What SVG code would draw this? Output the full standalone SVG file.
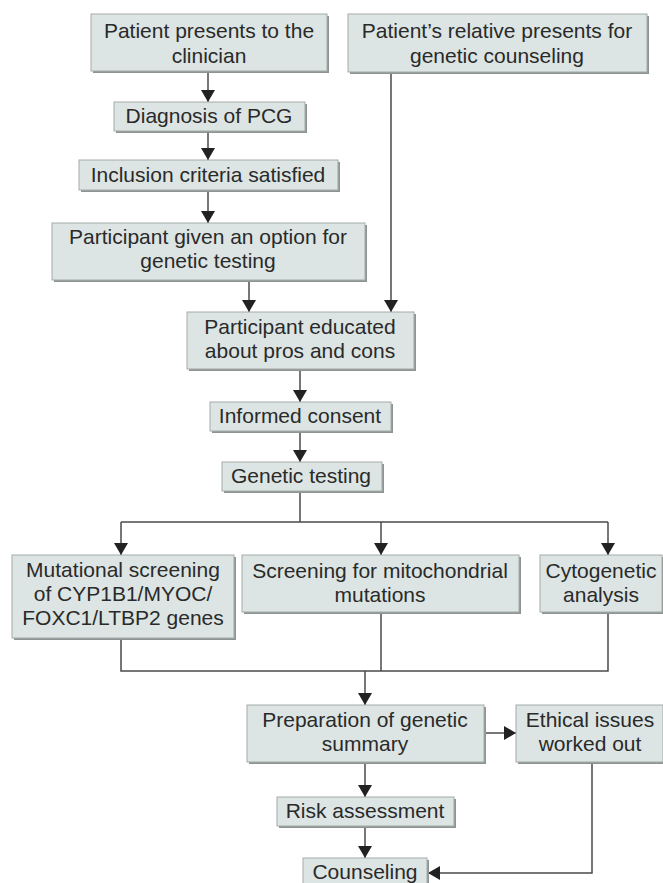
<svg xmlns="http://www.w3.org/2000/svg" width="663" height="883" viewBox="0 0 663 883">
<style>
.sh{fill:#8e9492}
.bx{fill:#dce5e3;stroke:#a4abaa;stroke-width:1}
.t{font-family:"Liberation Sans",Arial,sans-serif;font-size:21px;fill:#2a2a2a;text-anchor:middle}
.c{fill:none;stroke:#4a4a4a;stroke-width:1.5}
.a{marker-end:url(#ah)}
</style>
<defs>
<marker id="ah" viewBox="0 0 12 14" refX="12" refY="7" markerWidth="12" markerHeight="14" markerUnits="userSpaceOnUse" orient="auto">
<path d="M0,0 L12,7 L0,14 z" fill="#222"/>
</marker>
</defs>
<rect width="663" height="883" fill="#ffffff"/>
<g id="connectors">
<line class="c a" x1="208" y1="71" x2="208" y2="102"/>
<line class="c a" x1="208" y1="131" x2="208" y2="160"/>
<line class="c a" x1="208" y1="190" x2="208" y2="223"/>
<line class="c a" x1="249" y1="280" x2="249" y2="312"/>
<line class="c a" x1="391" y1="72" x2="391" y2="312"/>
<line class="c a" x1="300" y1="369" x2="300" y2="402"/>
<line class="c a" x1="300" y1="431" x2="300" y2="462"/>
<polyline class="c" points="300,491 300,522"/>
<polyline class="c" points="121,522 608,522"/>
<line class="c a" x1="121" y1="522" x2="121" y2="555"/>
<line class="c a" x1="381" y1="522" x2="381" y2="555"/>
<line class="c a" x1="608" y1="522" x2="608" y2="555"/>
<polyline class="c" points="121,638 121,671 608,671 608,612"/>
<line class="c" x1="381" y1="612" x2="381" y2="671"/>
<line class="c a" x1="365" y1="671" x2="365" y2="705"/>
<line class="c a" x1="484" y1="733" x2="516" y2="733"/>
<line class="c a" x1="365" y1="762" x2="365" y2="797"/>
<line class="c a" x1="365" y1="826" x2="365" y2="858"/>
<polyline class="c a" points="592,762 592,873 428,873"/>
</g>
<g id="n1"><rect class="sh" x="93" y="16" width="236" height="57"/><rect class="bx" x="91" y="14" width="236" height="57"/>
<text class="t" x="209" y="38">Patient presents to the</text><text class="t" x="209" y="63">clinician</text></g>
<g id="n2"><rect class="sh" x="350" y="16" width="299" height="58"/><rect class="bx" x="348" y="14" width="299" height="58"/>
<text class="t" x="497" y="38">Patient’s relative presents for</text><text class="t" x="497" y="63">genetic counseling</text></g>
<g id="n3"><rect class="sh" x="116" y="104" width="191" height="29"/><rect class="bx" x="114" y="102" width="191" height="29"/>
<text class="t" x="209" y="123">Diagnosis of PCG</text></g>
<g id="n4"><rect class="sh" x="81" y="162" width="259" height="30"/><rect class="bx" x="79" y="160" width="259" height="30"/>
<text class="t" x="208" y="182">Inclusion criteria satisfied</text></g>
<g id="n5"><rect class="sh" x="54" y="225" width="313" height="57"/><rect class="bx" x="52" y="223" width="313" height="57"/>
<text class="t" x="208" y="244">Participant given an option for</text><text class="t" x="208" y="268">genetic testing</text></g>
<g id="n6"><rect class="sh" x="189" y="314" width="227" height="57"/><rect class="bx" x="187" y="312" width="227" height="57"/>
<text class="t" x="300" y="334">Participant educated</text><text class="t" x="300" y="358">about pros and cons</text></g>
<g id="n7"><rect class="sh" x="212" y="404" width="181" height="29"/><rect class="bx" x="210" y="402" width="181" height="29"/>
<text class="t" x="300" y="423">Informed consent</text></g>
<g id="n8"><rect class="sh" x="224" y="464" width="160" height="29"/><rect class="bx" x="222" y="462" width="160" height="29"/>
<text class="t" x="301" y="483">Genetic testing</text></g>
<g id="n9"><rect class="sh" x="14" y="557" width="222" height="83"/><rect class="bx" x="12" y="555" width="222" height="83"/>
<text class="t" x="123" y="577">Mutational screening</text><text class="t" x="123" y="601">of CYP1B1/MYOC/</text><text class="t" x="123" y="625">FOXC1/LTBP2 genes</text></g>
<g id="n10"><rect class="sh" x="244" y="557" width="277" height="57"/><rect class="bx" x="242" y="555" width="277" height="57"/>
<text class="t" x="380" y="578">Screening for mitochondrial</text><text class="t" x="380" y="602">mutations</text></g>
<g id="n11"><rect class="sh" x="542" y="557" width="122" height="57"/><rect class="bx" x="540" y="555" width="122" height="57"/>
<text class="t" x="601" y="578">Cytogenetic</text><text class="t" x="601" y="602">analysis</text></g>
<g id="n12"><rect class="sh" x="249" y="707" width="237" height="57"/><rect class="bx" x="247" y="705" width="237" height="57"/>
<text class="t" x="365" y="727">Preparation of genetic</text><text class="t" x="365" y="751">summary</text></g>
<g id="n13"><rect class="sh" x="518" y="707" width="147" height="57"/><rect class="bx" x="516" y="705" width="147" height="57"/>
<text class="t" x="590" y="727">Ethical issues</text><text class="t" x="590" y="751">worked out</text></g>
<g id="n14"><rect class="sh" x="279" y="799" width="177" height="29"/><rect class="bx" x="277" y="797" width="177" height="29"/>
<text class="t" x="365" y="818">Risk assessment</text></g>
<g id="n15"><rect class="sh" x="305" y="860" width="124" height="32"/><rect class="bx" x="303" y="858" width="124" height="32"/>
<text class="t" x="365" y="879">Counseling</text></g>
</svg>
